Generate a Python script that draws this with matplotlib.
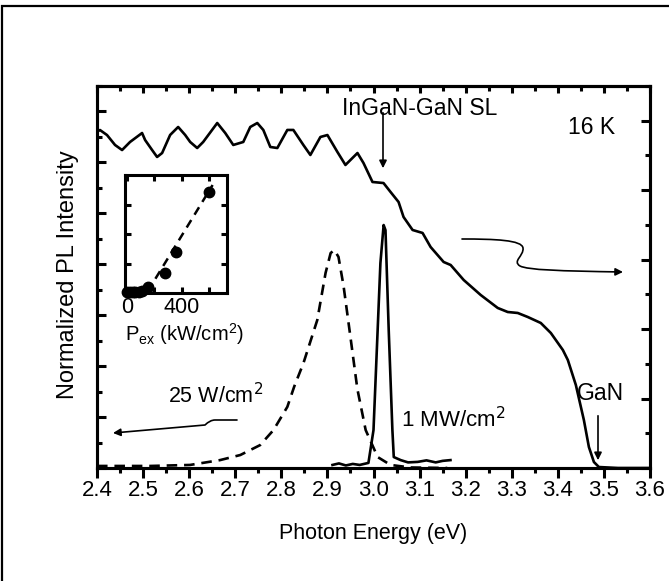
import matplotlib
matplotlib.use("Agg")
import matplotlib.pyplot as plt
from matplotlib.patches import FancyArrowPatch, Rectangle
from matplotlib.path import Path
from matplotlib.ticker import MultipleLocator, FixedLocator, FormatStrFormatter

plt.rcParams['font.family'] = ['Liberation Sans', 'DejaVu Sans']

# broad SL spectrum, read on the right axis
broad_e = [2.400, 2.4065, 2.4217, 2.4391, 2.4544, 2.4717, 2.4978, 2.5044, 2.5196, 2.5304,
           2.5413, 2.5587, 2.5761, 2.5913, 2.6022, 2.6174, 2.6304, 2.6609, 2.6783, 2.6957,
           2.7174, 2.7326, 2.7478, 2.7609, 2.7761, 2.7913, 2.8130, 2.8261, 2.8478, 2.8630,
           2.8848, 2.9000, 2.9217, 2.9391, 2.9652, 2.9783, 2.9978, 3.0217, 3.0370, 3.0544,
           3.0652, 3.0848, 3.1065, 3.1239, 3.1522, 3.1674, 3.1957, 3.2326, 3.2696, 3.2913,
           3.3130, 3.3348, 3.3630, 3.3848, 3.4109, 3.4217, 3.4391, 3.4565, 3.4674, 3.4783,
           3.4891, 3.5304, 3.600]
broad_i = [4.84, 4.866, 4.794, 4.651, 4.578, 4.694, 4.823, 4.722, 4.578, 4.478,
           4.535, 4.795, 4.910, 4.795, 4.694, 4.607, 4.694, 4.967, 4.823, 4.651,
           4.694, 4.910, 4.967, 4.867, 4.622, 4.607, 4.867, 4.867, 4.651, 4.507,
           4.766, 4.794, 4.550, 4.363, 4.535, 4.391, 4.118, 4.103, 3.974, 3.830,
           3.614, 3.427, 3.384, 3.182, 2.966, 2.923, 2.707, 2.491, 2.304, 2.246,
           2.232, 2.174, 2.088, 1.944, 1.699, 1.555, 1.195, 0.691, 0.302, 0.086,
           0.014, 0.0, 0.0]

# 25 W/cm2 spectrum (dashed, left axis)
low_e = [2.400, 2.515, 2.602, 2.667, 2.711, 2.754, 2.783, 2.813, 2.828, 2.848,
         2.878, 2.896, 2.907, 2.915, 2.924, 2.935, 2.950, 2.965, 2.983, 3.009,
         3.037, 3.080, 3.160]
low_i = [0.008, 0.008, 0.012, 0.031, 0.051, 0.090, 0.149, 0.240, 0.320, 0.412,
         0.581, 0.766, 0.844, 0.856, 0.829, 0.715, 0.514, 0.310, 0.149, 0.043,
         0.012, 0.002, 0.0]

# 1 MW/cm2 spectrum (solid, left axis)
high_e = [2.911, 2.925, 2.940, 2.955, 2.970, 2.989, 3.000, 3.009, 3.015, 3.022,
          3.026, 3.033, 3.041, 3.044, 3.059, 3.075, 3.096, 3.115, 3.135, 3.150, 3.167]
high_i = [0.012, 0.018, 0.010, 0.016, 0.012, 0.020, 0.149, 0.542, 0.805, 0.954,
          0.934, 0.542, 0.149, 0.043, 0.031, 0.022, 0.024, 0.030, 0.022, 0.028, 0.031]

# inset: integrated intensity vs excitation power
pex = [0, 20, 40, 60, 85, 110, 150, 276, 356, 600]
pex_int = [0.03, 0.03, 0.04, 0.04, 0.05, 0.06, 0.20, 0.68, 1.39, 3.42]
fit_pex = [150, 625]
fit_int = [0.05, 3.66]


def fx(px):
    return px / 669.0


def fy(py):
    return 1 - py / 581.0


fig = plt.figure(figsize=(6.69, 5.81), dpi=100)

# outer frame of the original figure
fig.patches.append(Rectangle((fx(1.5), -0.2), 1.5, fy(5.5) + 0.2, transform=fig.transFigure,
                             fill=False, edgecolor='black', linewidth=1.6))

ax = fig.add_axes([fx(97), fy(468), fx(650) - fx(97), fy(86) - fy(468)])
ax2 = ax.twinx()

ax.plot(low_e, low_i, color='black', lw=1.9, ls=(0, (4, 2.6)))
ax.plot(high_e, high_i, color='black', lw=1.9)
ax2.plot(broad_e, broad_i, color='black', lw=1.9)

ax.set_xlim(2.4, 3.6)
ax.set_ylim(0, 1.5)
ax2.set_ylim(0, 5.5)

ax.xaxis.set_major_locator(MultipleLocator(0.1))
ax.xaxis.set_minor_locator(MultipleLocator(0.05))
ax.xaxis.set_major_formatter(FormatStrFormatter('%.1f'))
ax.yaxis.set_major_locator(MultipleLocator(0.2))
ax.yaxis.set_minor_locator(MultipleLocator(0.1))
ax2.yaxis.set_major_locator(MultipleLocator(1))
ax2.yaxis.set_minor_locator(MultipleLocator(0.5))

ax.tick_params(axis='x', which='major', direction='out', length=7, width=2.2, labelsize=16, pad=2)
ax.tick_params(axis='x', which='minor', direction='out', length=3.6, width=2.2)
ax.tick_params(axis='y', which='major', direction='in', length=6.5, width=2.2, labelleft=False, right=False)
ax.tick_params(axis='y', which='minor', direction='in', length=3.6, width=2.2, right=False)
ax2.tick_params(axis='y', which='major', direction='in', length=6.5, width=2.2, labelright=False)
ax2.tick_params(axis='y', which='minor', direction='in', length=3.6, width=2.2)

top = ax.secondary_xaxis('top')
top.xaxis.set_major_locator(MultipleLocator(0.1))
top.xaxis.set_minor_locator(MultipleLocator(0.05))
top.tick_params(which='major', direction='in', length=5, width=2.2, labeltop=False)
top.tick_params(which='minor', direction='in', length=3.6, width=2.2)

for a in (ax, ax2, top):
    for s in a.spines.values():
        s.set_linewidth(2.2)

fig.text(fx(68), fy(275), 'Normalized PL Intensity', rotation=90, ha='center', va='center', fontsize=17)
fig.text(fx(373), fy(533), 'Photon Energy (eV)', ha='center', va='center', fontsize=15.5)

# annotations
fig.text(fx(342), fy(108), 'InGaN-GaN SL', ha='left', va='center', fontsize=16.5)
fig.text(fx(568), fy(128), '16 K', ha='left', va='center', fontsize=16.5)
fig.text(fx(600), fy(393), 'GaN', ha='center', va='center', fontsize=16.5)
fig.text(fx(168), fy(396), '25 W/cm$^2$', ha='left', va='center', fontsize=15.5)
fig.text(fx(401), fy(420), '1 MW/cm$^2$', ha='left', va='center', fontsize=16)

arrow_kw = dict(arrowstyle='-|>', mutation_scale=11, color='black', lw=1.2,
                transform=fig.transFigure)
fig.patches.append(FancyArrowPatch((fx(383), fy(110)), (fx(383), fy(171)), **arrow_kw))
fig.patches.append(FancyArrowPatch((fx(598), fy(413)), (fx(598), fy(463)), **arrow_kw))

left_path = Path([(fx(237), fy(420)), (fx(215), fy(420)), (fx(210), fy(420)),
                  (fx(205), fy(425)), (fx(113), fy(433))],
                 [Path.MOVETO, Path.LINETO, Path.CURVE3, Path.CURVE3, Path.LINETO])
fig.patches.append(FancyArrowPatch(path=left_path, **arrow_kw))

right_path = Path([(fx(462), fy(239)), (fx(495), fy(239)), (fx(522), fy(240)), (fx(523), fy(248)),
                   (fx(524), fy(256)), (fx(512), fy(261)), (fx(520), fy(266)),
                   (fx(528), fy(270)), (fx(560), fy(271)), (fx(623), fy(272))],
                  [Path.MOVETO, Path.CURVE4, Path.CURVE4, Path.CURVE4,
                   Path.CURVE4, Path.CURVE4, Path.CURVE4,
                   Path.CURVE4, Path.CURVE4, Path.CURVE4])
fig.patches.append(FancyArrowPatch(path=right_path, **arrow_kw))

# inset
axi = fig.add_axes([fx(125), fy(293), fx(227) - fx(125), fy(175) - fy(293)])
axi.plot(fit_pex, fit_int, color='black', lw=1.8, ls=(0, (3.5, 2.5)))
axi.plot(pex, pex_int, 'o', color='black', markersize=7.5, clip_on=False)
axi.set_xlim(-15, 730)
axi.set_ylim(0, 4)
axi.xaxis.set_major_locator(FixedLocator([0, 200, 400, 600]))
axi.set_xticklabels(['0', '', '400', ''])
axi.yaxis.set_major_locator(FixedLocator([1, 2, 3]))
axi.tick_params(which='major', direction='in', length=4.5, width=2.2, top=True, right=True,
                labelleft=False, labelsize=15.5, pad=3)
for s in axi.spines.values():
    s.set_linewidth(2.2)
fig.text(fx(125), fy(334), 'P$_{\\mathregular{ex}}$ (kW/cm$^{\\mathregular{2}}$)', ha='left', va='center',
         fontsize=14.5)

fig.savefig('out.png', dpi=100)
